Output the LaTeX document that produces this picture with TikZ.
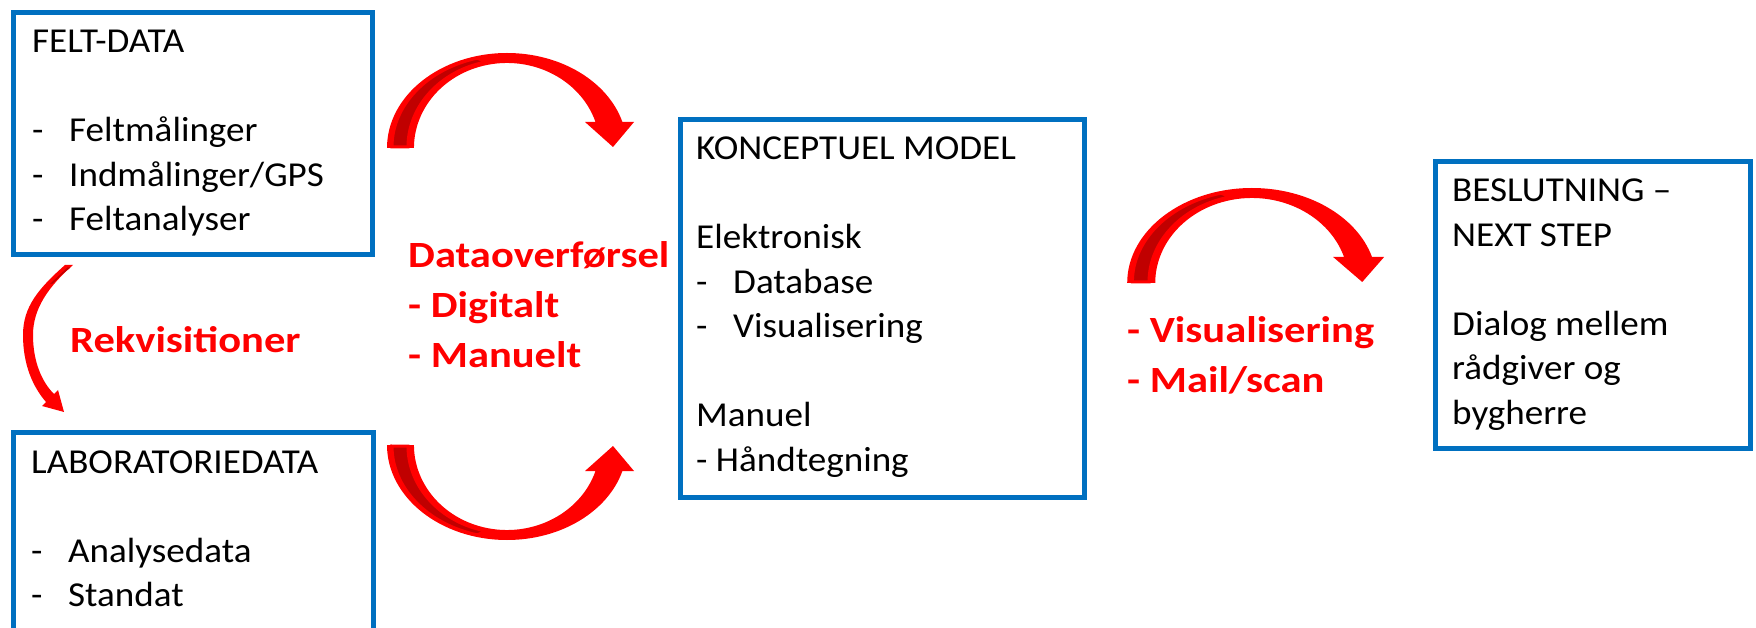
\documentclass[tikz,border=0pt]{standalone}
\usepackage{fontspec}
\setmainfont{Carlito}[FakeStretch=1.06]
\newfontfamily\redfont{Carlito}[FakeStretch=1.15]
\definecolor{boxblue}{RGB}{0,112,192}
\definecolor{darkred}{RGB}{192,0,0}
\newcommand{\dashitem}[1]{\makebox[37pt][l]{-}#1}

\begin{document}
\begin{tikzpicture}[x=1pt, y=1pt,
    box/.style={draw=boxblue, line width=5pt, inner sep=0pt, anchor=north west},
    boxtext/.style={anchor=base west, align=left, inner sep=0pt,
        font=\fontsize{35}{44.5}\selectfont},
    redtext/.style={anchor=base west, align=left, inner sep=0pt, text=red,
        font=\redfont\fontsize{37}{50}\selectfont\bfseries},
]
    \useasboundingbox (0,0) rectangle (1756,627);

    \def\arrowBody{(-120,0)
        arc[start angle=180, end angle=15.9, x radius=120, y radius=95]
        -- (127,26) -- (106,1) -- (78,26) -- (88.5,26)
        arc[start angle=17.8, end angle=180, x radius=93, y radius=85] -- cycle}
    \def\arrowBack{(-115,1)
        arc[start angle=180, end angle=105, x radius=115, y radius=92]
        -- (-20.6,86.1)
        arc[start angle=102, end angle=180, x radius=99, y radius=87] -- cycle}

    \begin{scope}[shift={(507,479)}]
        \fill[red] \arrowBody;
        \fill[darkred, draw=red, line width=3pt] \arrowBack;
    \end{scope}
    \begin{scope}[shift={(507,182)}, yscale=-1]
        \fill[red] \arrowBody;
        \fill[darkred, draw=red, line width=3pt] \arrowBack;
    \end{scope}
    \begin{scope}[shift={(1252,344)}, xscale=1.04]
        \fill[red] \arrowBody;
        \fill[darkred, draw=red, line width=3pt] \arrowBack;
    \end{scope}

    \fill[red] (65,362) .. controls (38,338) and (23,320) .. (23,292)
        .. controls (23,262) and (33,240) .. (46,225)
        -- (42,221) -- (64,215) -- (58,237) -- (54,233)
        .. controls (42,245) and (33,265) .. (33,292)
        .. controls (33,318) and (48,340) .. (73,362) -- cycle;
    \fill[darkred] (67.5,359.5) .. controls (58,351) .. (50,343)
        -- (53,343.5) .. controls (60,351) .. (70.5,359.5) -- cycle;

    \node[box, minimum width=359pt, minimum height=242pt] (felt) at (10.5,616.5) {};
    \node[box, minimum width=360pt, minimum height=198.5pt] (lab) at (10.5,196.5) {};
    \node[box, minimum width=404pt, minimum height=377pt] (model) at (677.5,509.5) {};
    \node[box, minimum width=315pt, minimum height=286pt] (beslut) at (1432.5,467.5) {};

    \node[boxtext] (feltText) at (32,396) {FELT-DATA\\[44.5pt]
        \dashitem{Feltmålinger}\\\dashitem{Indmålinger/GPS}\\\dashitem{Feltanalyser}};
    \node[boxtext] (labText) at (31,20.5) {LABORATORIEDATA\\[44.5pt]
        \dashitem{Analysedata}\\\dashitem{Standat}};
    \node[boxtext] (modelText) at (696,155.5) {KONCEPTUEL MODEL\\[44.5pt]
        Elektronisk\\\dashitem{Database}\\\dashitem{Visualisering}\\[44.5pt]
        Manuel\\- Håndtegning};
    \node[boxtext] (beslutText) at (1452,202.5) {BESLUTNING –\\NEXT STEP\\[44.5pt]
        Dialog mellem\\rådgiver og\\bygherre};

    \node[redtext] (overfoersel) at (408,259) {Dataoverførsel\\- Digitalt\\- Manuelt};
    \node[redtext] (rekv) at (70,274) {Rekvisitioner};
    \node[redtext] (visual) at (1127,234) {- Visualisering\\- Mail/scan};

\end{tikzpicture}
\end{document}
